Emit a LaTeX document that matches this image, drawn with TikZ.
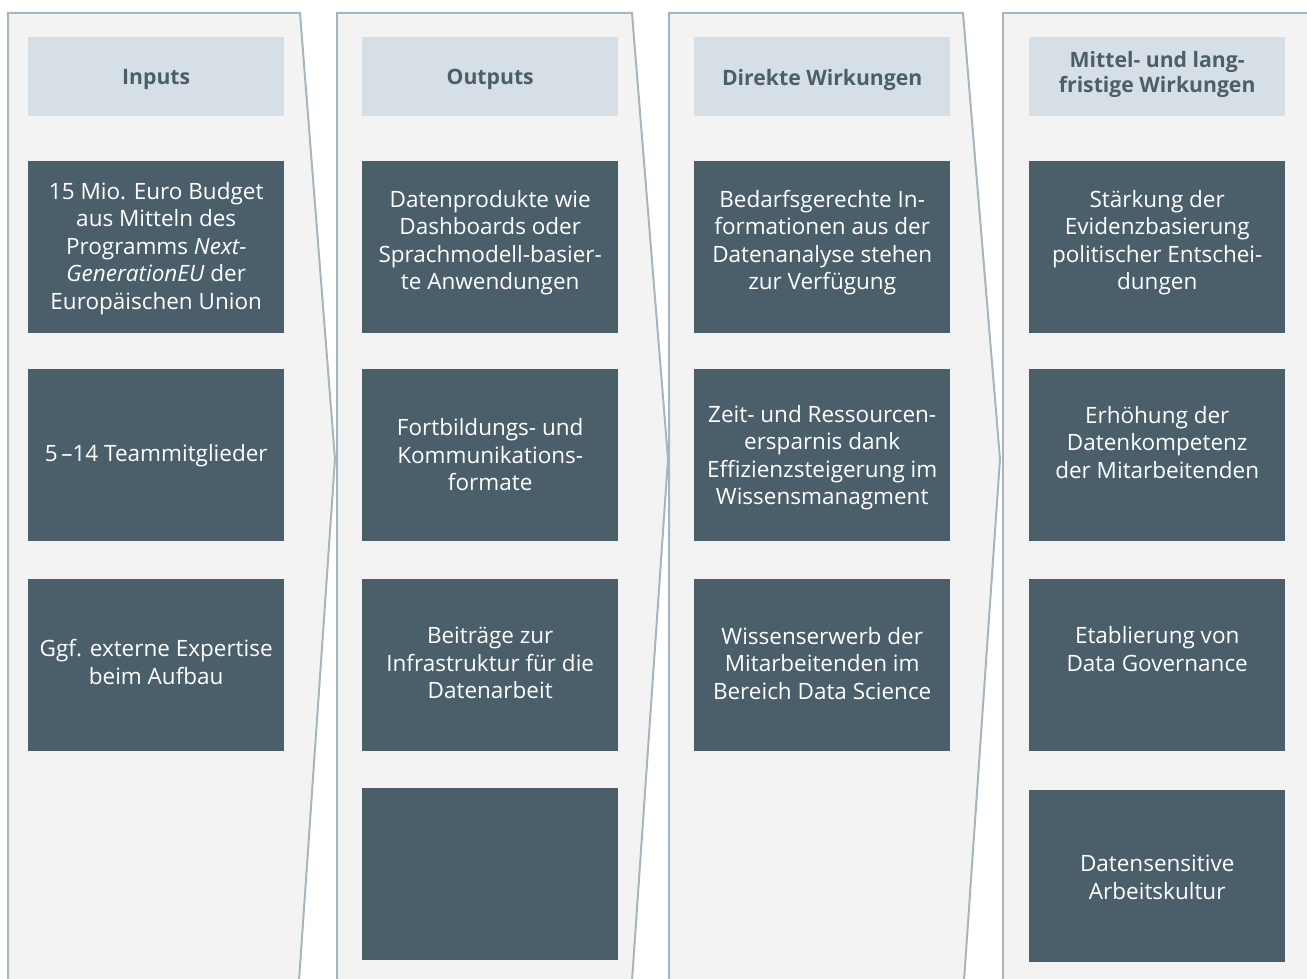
\documentclass[tikz,border=0pt]{standalone}
\usepackage{fontspec}
\setmainfont{Open Sans}
\definecolor{colfill}{HTML}{F3F3F3}
\definecolor{colborder}{HTML}{A6B6C1}
\definecolor{headfill}{HTML}{D7DFE6}
\definecolor{darkbox}{HTML}{4B5F6A}
\tikzset{
  column/.style={fill=colfill},
  colline/.style={draw=colborder, line width=2pt, line join=miter},
  headbox/.style={fill=headfill, minimum width=256pt, minimum height=79pt, inner sep=0pt, anchor=north west},
  dbox/.style={fill=darkbox, minimum width=256pt, minimum height=172pt, inner sep=0pt, anchor=north west},
  headtxt/.style={text=darkbox, font=\fontsize{21.2}{25}\selectfont\bfseries, align=center, inner sep=0pt},
  btxt/.style={text=white, font=\fontsize{22.5}{27.5}\selectfont, align=center, inner sep=0pt},
}
\begin{document}
\begin{tikzpicture}[x=1pt,y=-1pt]
\useasboundingbox (0,0) rectangle (1307,979);
% columns
\fill[column] (8,981) -- (8,13) -- (300,13) -- (335,459) -- (299,981) -- cycle;
\draw[colline] (8,981) -- (8,13) -- (300,13) -- (335,459) -- (299,981);
\fill[column] (337,981) -- (337,13) -- (632,13) -- (668,459) -- (632,981) -- cycle;
\draw[colline] (337,981) -- (337,13) -- (632,13) -- (668,459) -- (632,981);
\fill[column] (669,981) -- (669,13) -- (963,13) -- (1000,459) -- (964,981) -- cycle;
\draw[colline] (669,981) -- (669,13) -- (963,13) -- (1000,459) -- (964,981);
\fill[column] (1003,981) -- (1003,13) -- (1309,13) -- (1309,981) -- cycle;
\draw[colline] (1003,981) -- (1003,13) -- (1309,13);
% headers
\node[headbox] (h1) at (28,37) {};
\node[headbox] (h2) at (362,37) {};
\node[headbox] (h3) at (694,37) {};
\node[headbox] (h4) at (1029,37) {};
\node[headtxt] (ht1) at ([yshift=-3pt]h1.center) {Inputs};
\node[headtxt] (ht2) at ([yshift=-3pt]h2.center) {Outputs};
\node[headtxt] (ht3) at ([yshift=-3pt]h3.center) {Direkte Wirkungen};
\node[headtxt] (ht4) at ([yshift=2pt]h4.center) {Mittel- und lang-\\fristige Wirkungen};
% column 1
\node[dbox] (a1) at (28,161) {};
\node[dbox] (a2) at (28,369) {};
\node[dbox] (a3) at (28,579) {};
\node[btxt] (at1) at ([yshift=-1pt]a1.center) {15 Mio. Euro Budget\\aus Mitteln des\\Programms \textit{Next-}\\\textit{GenerationEU} der\\Europäischen Union};
\node[btxt] (at2) at (a2.center) {5\,--14 Teammitglieder};
\node[btxt] (at3) at ([yshift=3pt]a3.center) {Ggf. externe Expertise\\beim Aufbau};
% column 2
\node[dbox] (b1) at (362,161) {};
\node[dbox] (b2) at (362,369) {};
\node[dbox] (b3) at (362,579) {};
\node[dbox] (b4) at (362,788) {};
\node[btxt] (bt1) at ([yshift=4.5pt]b1.center) {Datenprodukte wie\\Dashboards oder\\Sprachmodell-basier-\\te Anwendungen};
\node[btxt] (bt2) at ([yshift=0.5pt]b2.center) {Fortbildungs- und\\Kommunikations-\\formate};
\node[btxt] (bt3) at ([yshift=2pt]b3.center) {Beiträge zur\\Infrastruktur für die\\Datenarbeit};
% column 3
\node[dbox] (c1) at (694,161) {};
\node[dbox] (c2) at (694,369) {};
\node[dbox] (c3) at (694,579) {};
\node[btxt] (ct1) at ([yshift=4.5pt]c1.center) {Bedarfsgerechte In-\\formationen aus der\\Datenanalyse stehen\\zur Verfügung};
\node[btxt] (ct2) at ([yshift=-2.5pt]c2.center) {Zeit- und Ressourcen-\\ersparnis dank\\Effizienzsteigerung im\\Wissensmanagment};
\node[btxt] (ct3) at ([yshift=2pt]c3.center) {Wissenserwerb der\\Mitarbeitenden im\\Bereich Data Science};
% column 4
\node[dbox] (d1) at (1029,161) {};
\node[dbox] (d2) at (1029,369) {};
\node[dbox] (d3) at (1029,579) {};
\node[dbox] (d4) at (1029,790) {};
\node[btxt] (dt1) at ([yshift=4.5pt]d1.center) {Stärkung der\\Evidenzbasierung\\politischer Entschei-\\dungen};
\node[btxt] (dt2) at ([yshift=13pt]d2.center) {Erhöhung der\\Datenkompetenz\\der Mitarbeitenden};
\node[btxt] (dt3) at ([yshift=16pt]d3.center) {Etablierung von\\Data Governance};
\node[btxt] (dt4) at ([yshift=-1pt]d4.center) {Datensensitive\\Arbeitskultur};
\end{tikzpicture}
\end{document}
